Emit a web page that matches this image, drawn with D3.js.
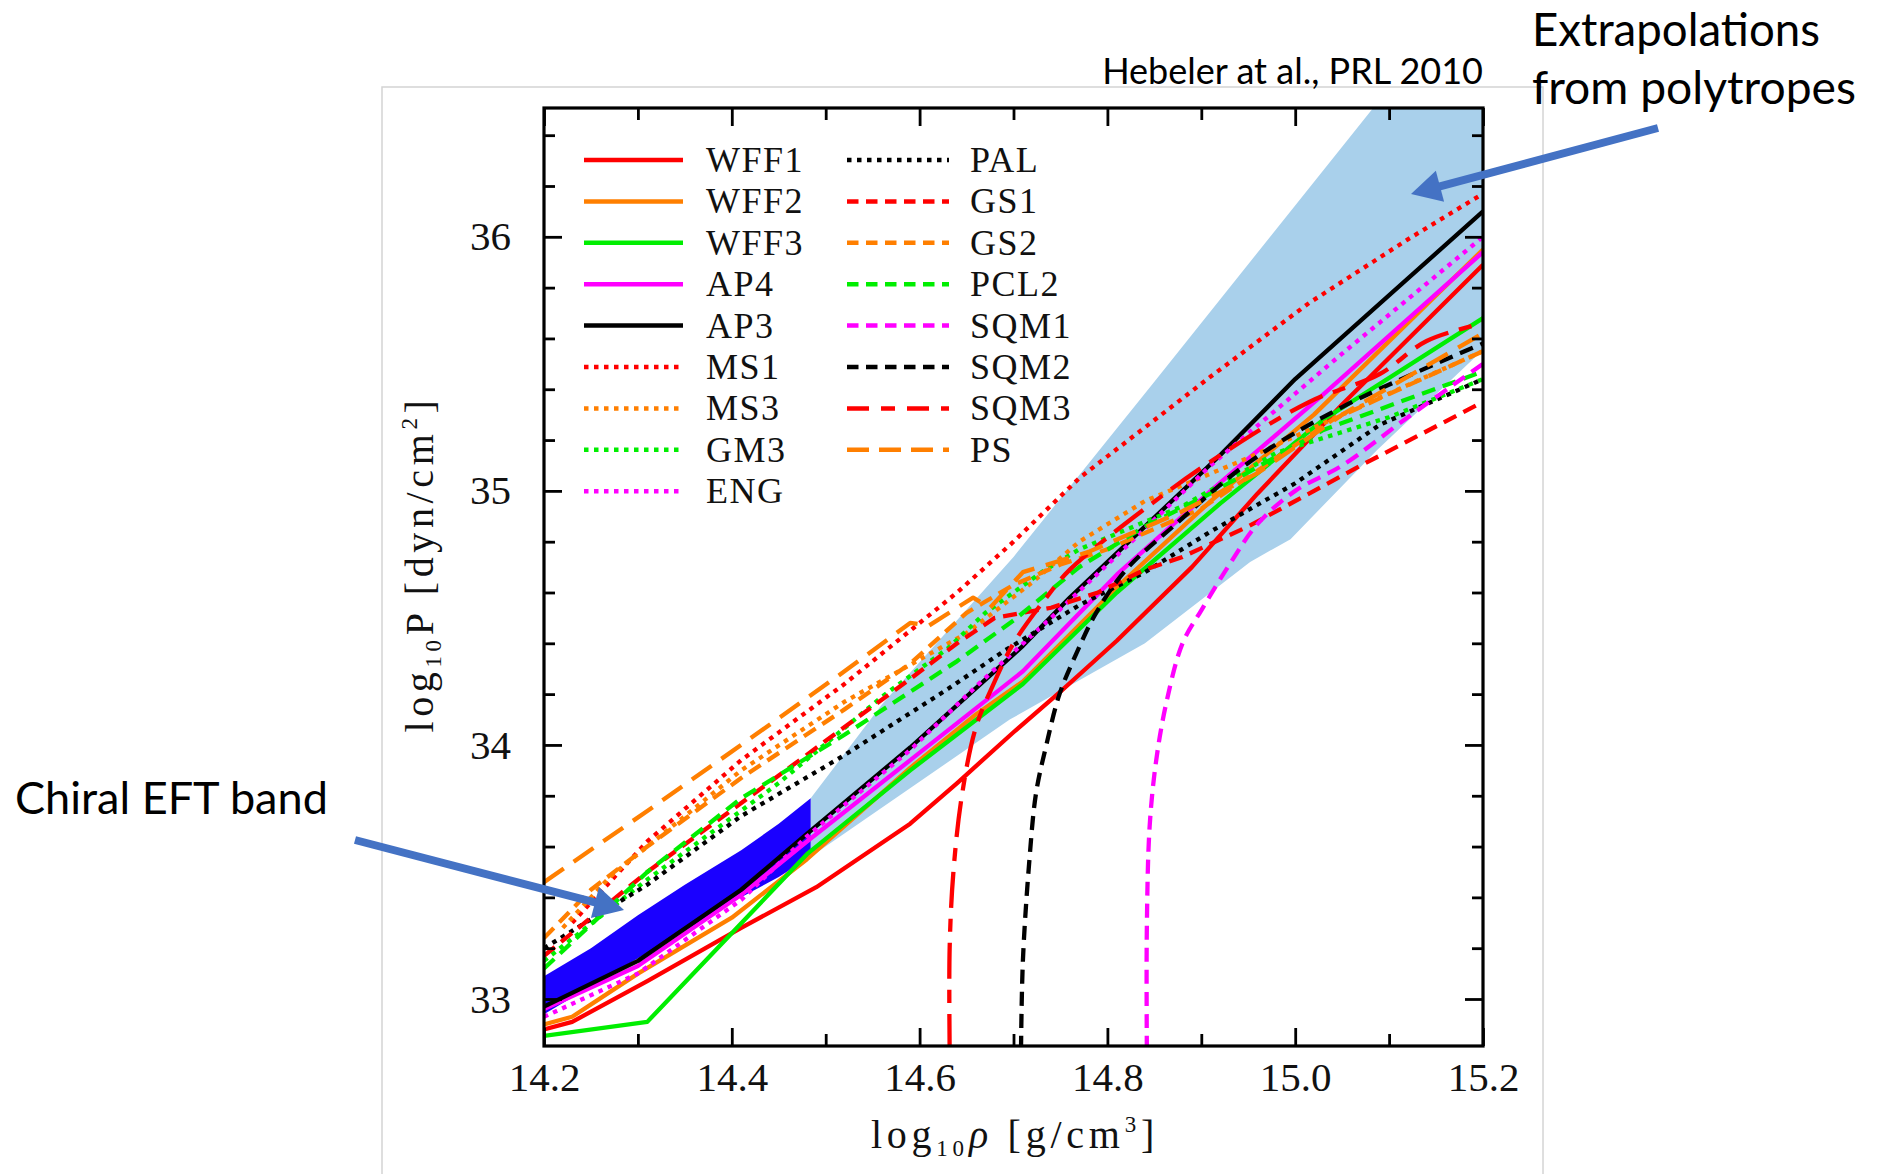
<!DOCTYPE html>
<html>
<head>
<meta charset="utf-8">
<script src="https://cdn.jsdelivr.net/npm/d3@7/dist/d3.min.js"></script>
<style>
  body { margin: 0; background: #fff; }
  svg { display: block; }
</style>
</head>
<body>
<svg id="chart" width="1883" height="1174"></svg>
<script>
// Equations of state: log10 P [dyn/cm^2] versus log10 rho [g/cm^3]
// Each curve is a list of [log10 rho, log10 P] points.
const WFF1 = [[14.2,32.88],[14.23,32.91],[14.31,33.07],[14.41,33.28],[14.49,33.44],[14.59,33.69],[14.64,33.85],[14.70,34.05],[14.75,34.21],[14.81,34.41],[14.89,34.70],[14.96,34.99],[15.05,35.34],[15.2,35.89]];
const WFF2 = [[14.2,32.90],[14.23,32.93],[14.30,33.10],[14.40,33.32],[14.48,33.55],[14.59,33.91],[14.66,34.12],[14.71,34.25],[14.81,34.62],[14.91,34.96],[15.02,35.30],[15.2,35.95]];
const WFF3 = [[14.2,32.855],[14.31,32.91],[14.48,33.57],[14.59,33.90],[14.71,34.24],[14.81,34.60],[14.92,34.95],[15.03,35.28],[15.2,35.68]];
const AP4  = [[14.2,32.96],[14.30,33.13],[14.41,33.41],[14.48,33.62],[14.59,33.94],[14.71,34.29],[14.81,34.67],[14.91,35.00],[15.03,35.38],[15.2,35.94]];
const AP3  = [[14.2,32.97],[14.30,33.15],[14.41,33.43],[14.48,33.65],[14.59,33.99],[14.65,34.19],[14.71,34.39],[14.76,34.58],[14.92,35.14],[15.0,35.44],[15.2,36.10]];
const MS1  = [[14.23,33.30],[14.31,33.62],[14.41,33.94],[14.52,34.24],[14.64,34.60],[14.70,34.80],[14.77,35.05],[14.84,35.25],[14.91,35.45],[15.015,35.74],[15.12,35.99],[15.2,36.17]];
const MS3  = [[14.22,33.28],[14.27,33.48],[14.41,33.90],[14.52,34.17],[14.65,34.44],[14.72,34.64],[14.77,34.80],[14.84,34.96],[14.95,35.13],[15.05,35.30],[15.2,35.55]];
const GM3  = [[14.2,33.15],[14.31,33.47],[14.45,33.85],[14.56,34.19],[14.63,34.38],[14.67,34.52],[14.73,34.68],[14.77,34.77],[14.88,34.94],[14.98,35.15],[15.1,35.29],[15.2,35.44]];
const ENG  = [[14.2,32.93],[14.30,33.10],[14.41,33.39],[14.48,33.64],[14.59,33.98],[14.66,34.23],[14.74,34.50],[14.82,34.78],[14.91,35.10],[15.05,35.54],[15.2,36.0]];
const PAL  = [[14.2,33.20],[14.31,33.45],[14.41,33.72],[14.52,33.96],[14.63,34.22],[14.69,34.37],[14.77,34.55],[14.84,34.68],[14.91,34.84],[15.0,35.03],[15.09,35.26],[15.2,35.44]];
const GS1  = [[14.2,33.17],[14.31,33.50],[14.45,33.88],[14.59,34.26],[14.64,34.40],[14.68,34.50],[14.74,34.54],[14.79,34.60],[14.84,34.69],[14.88,34.74],[14.95,34.86],[15.07,35.10],[15.2,35.35]];
const GS2  = [[14.2,33.24],[14.25,33.43],[14.31,33.60],[14.41,33.87],[14.52,34.14],[14.59,34.32],[14.65,34.52],[14.70,34.63],[14.75,34.71],[14.80,34.77],[14.90,34.93],[15.04,35.28],[15.2,35.55]];
const PCL2 = [[14.2,33.12],[14.31,33.50],[14.41,33.79],[14.52,34.04],[14.64,34.33],[14.70,34.49],[14.77,34.70],[14.84,34.86],[14.91,34.99],[15.03,35.24],[15.2,35.47]];
const SQM1 = [[14.842,32.80],[14.842,33.28],[14.845,33.68],[14.852,33.94],[14.863,34.17],[14.88,34.40],[14.90,34.53],[14.93,34.71],[14.96,34.87],[15.0,35.0],[15.05,35.10],[15.12,35.29],[15.2,35.50]];
const SQM2 = [[14.708,32.80],[14.71,33.15],[14.717,33.55],[14.724,33.81],[14.735,34.0],[14.749,34.2],[14.767,34.36],[14.788,34.52],[14.82,34.69],[14.87,34.86],[14.95,35.11],[15.05,35.33],[15.2,35.58]];
const SQM3 = [[14.632,32.80],[14.632,33.2],[14.636,33.5],[14.645,33.8],[14.66,34.07],[14.68,34.25],[14.70,34.40],[14.735,34.58],[14.76,34.69],[14.84,34.93],[14.92,35.14],[15.015,35.35],[15.09,35.46],[15.14,35.59],[15.2,35.66]];
const PS   = [[14.2,33.46],[14.31,33.74],[14.41,34.00],[14.52,34.29],[14.59,34.48],[14.61,34.47],[14.657,34.58],[14.675,34.54],[14.71,34.68],[14.78,34.76],[14.88,34.92],[14.96,35.07],[15.05,35.30],[15.2,35.62]];

// Chiral EFT band (dark) and its polytrope extrapolation (light)
const chiralX     = [14.2, 14.25, 14.3, 14.35, 14.41, 14.45, 14.484];
const chiralLower = [32.94, 33.05, 33.16, 33.27, 33.40, 33.48, 33.56];
const chiralUpper = [33.09, 33.20, 33.33, 33.45, 33.585, 33.69, 33.79];
const polyUpper = [[14.484,33.79],[14.56,34.16],[14.70,34.74],[14.85,35.43],[15.083,36.507],[15.2,36.507]];
const polyLower = [[14.484,33.56],[14.696,34.10],[14.84,34.40],[14.952,34.72],[14.995,34.81],[15.087,35.16],[15.2,35.555]];

// Axis ticks
const xMajor = [14.2, 14.4, 14.6, 14.8, 15.0, 15.2];
const xMinor = [14.3, 14.5, 14.7, 14.9, 15.1];
const yMajor = [33, 34, 35, 36];
const yMinor = [33.2, 33.4, 33.6, 33.8, 34.2, 34.4, 34.6, 34.8, 35.2, 35.4, 35.6, 35.8, 36.2, 36.4];

// Legend columns
const legendLeft  = ["WFF1","WFF2","WFF3","AP4","AP3","MS1","MS3","GM3","ENG"];
const legendRight = ["PAL","GS1","GS2","PCL2","SQM1","SQM2","SQM3","PS"];

const RED = "#ff0000", ORANGE = "#ff7f00", GREEN = "#00ee00", MAGENTA = "#ff00ff", BLACK = "#000000";
// dash styles: [plot dasharray, legend dasharray]
const SOLID = [null, null];
const DOT   = ["4.5,5.5", "4.5,5.5"];
const DASH  = ["14,8", "11.5,7.5"];
const LONG  = ["24,12", "22,10"];
const LSHORT = ["36,11,13,11", "22,12,14,12"];

const curves = {
  WFF1: {data: WFF1, color: RED,     dash: SOLID},
  WFF2: {data: WFF2, color: ORANGE,  dash: SOLID},
  WFF3: {data: WFF3, color: GREEN,   dash: SOLID},
  AP4:  {data: AP4,  color: MAGENTA, dash: SOLID},
  AP3:  {data: AP3,  color: BLACK,   dash: SOLID},
  MS1:  {data: MS1,  color: RED,     dash: DOT},
  MS3:  {data: MS3,  color: ORANGE,  dash: DOT},
  GM3:  {data: GM3,  color: GREEN,   dash: DOT},
  ENG:  {data: ENG,  color: MAGENTA, dash: DOT},
  PAL:  {data: PAL,  color: BLACK,   dash: DOT},
  GS1:  {data: GS1,  color: RED,     dash: DASH},
  GS2:  {data: GS2,  color: ORANGE,  dash: DASH},
  PCL2: {data: PCL2, color: GREEN,   dash: DASH},
  SQM1: {data: SQM1, color: MAGENTA, dash: DASH, smooth: true},
  SQM2: {data: SQM2, color: BLACK,   dash: DASH, smooth: true},
  SQM3: {data: SQM3, color: RED,     dash: LSHORT, smooth: true},
  PS:   {data: PS,   color: ORANGE,  dash: LONG}
};

const SERIF = "'Liberation Serif', 'Times New Roman', serif";
const SANS = "Lato, 'Open Sans', sans-serif";

const svg = d3.select("#chart");
const frame = {left: 544, right: 1483, top: 108, bottom: 1046};

const x = d3.scaleLinear().domain([14.2, 15.2]).range([frame.left, frame.right]);
const y = d3.scaleLinear().domain([32.815, 36.507]).range([frame.bottom, frame.top]);

// light grey outline of the figure panel
svg.append("rect")
  .attr("x", 382).attr("y", 87).attr("width", 1161).attr("height", 1200)
  .attr("fill", "none").attr("stroke", "#d4d4d4").attr("stroke-width", 1.5);

svg.append("clipPath").attr("id", "plot-clip")
  .append("rect")
  .attr("x", frame.left).attr("y", frame.top)
  .attr("width", frame.right - frame.left).attr("height", frame.bottom - frame.top);

const plot = svg.append("g").attr("clip-path", "url(#plot-clip)");

const line = d3.line().x(d => x(d[0])).y(d => y(d[1]));

// polytrope band
plot.append("path")
  .attr("d", line(polyUpper.concat(polyLower.slice().reverse())) + "Z")
  .attr("fill", "#a9d0eb");

// chiral EFT band
const chiral = chiralX.map((v, i) => ({x: v, lo: chiralLower[i], hi: chiralUpper[i]}));
plot.append("path")
  .attr("d", d3.area().x(d => x(d.x)).y0(d => y(d.lo)).y1(d => y(d.hi))(chiral))
  .attr("fill", "#1a00ff");

// curves
const order = legendLeft.concat(legendRight);
order.forEach(name => {
  const c = curves[name];
  const gen = d3.line().x(d => x(d[0])).y(d => y(d[1]))
    .curve(c.smooth ? d3.curveCatmullRom.alpha(0.5) : d3.curveLinear);
  plot.append("path")
    .attr("d", gen(c.data))
    .attr("fill", "none")
    .attr("stroke", c.color)
    .attr("stroke-width", 4.3)
    .attr("stroke-linejoin", "round")
    .attr("stroke-dasharray", c.dash[0]);
});

// axes, ticks pointing inwards on all four sides
function styleAxis(g) {
  g.select(".domain").remove();
  g.selectAll(".tick line").attr("stroke", "#000").attr("stroke-width", 2.8);
  g.selectAll(".tick text")
    .attr("font-family", SERIF).attr("font-size", 41).attr("fill", "#111");
}
const fmtX = d3.format(".1f");
svg.append("g").attr("transform", `translate(0,${frame.bottom})`)
  .call(d3.axisBottom(x).tickValues(xMajor).tickSize(-18).tickPadding(16).tickFormat(fmtX)).call(styleAxis);
svg.append("g").attr("transform", `translate(0,${frame.bottom})`)
  .call(d3.axisBottom(x).tickValues(xMinor).tickSize(-12).tickFormat("")).call(styleAxis);
svg.append("g").attr("transform", `translate(0,${frame.top})`)
  .call(d3.axisTop(x).tickValues(xMajor).tickSize(-18).tickFormat("")).call(styleAxis);
svg.append("g").attr("transform", `translate(0,${frame.top})`)
  .call(d3.axisTop(x).tickValues(xMinor).tickSize(-12).tickFormat("")).call(styleAxis);
svg.append("g").attr("transform", `translate(${frame.left},0)`)
  .call(d3.axisLeft(y).tickValues(yMajor).tickSize(-18).tickPadding(33).tickFormat(d3.format("d"))).call(styleAxis);
svg.append("g").attr("transform", `translate(${frame.left},0)`)
  .call(d3.axisLeft(y).tickValues(yMinor).tickSize(-11).tickFormat("")).call(styleAxis);
svg.append("g").attr("transform", `translate(${frame.right},0)`)
  .call(d3.axisRight(y).tickValues(yMajor).tickSize(-18).tickFormat("")).call(styleAxis);
svg.append("g").attr("transform", `translate(${frame.right},0)`)
  .call(d3.axisRight(y).tickValues(yMinor).tickSize(-11).tickFormat("")).call(styleAxis);

svg.append("rect")
  .attr("x", frame.left).attr("y", frame.top)
  .attr("width", frame.right - frame.left).attr("height", frame.bottom - frame.top)
  .attr("fill", "none").attr("stroke", "#000").attr("stroke-width", 3.2);

// legend
function legendColumn(names, x0, x1, tx) {
  names.forEach((name, i) => {
    const c = curves[name];
    const cy = 160 + i * 41.4;
    svg.append("line")
      .attr("x1", x0).attr("x2", x1).attr("y1", cy).attr("y2", cy)
      .attr("stroke", c.color).attr("stroke-width", 4.5)
      .attr("stroke-dasharray", c.dash[1]);
    svg.append("text")
      .attr("x", tx).attr("y", cy + 12)
      .attr("font-family", SERIF).attr("font-size", 36)
      .attr("letter-spacing", 1.5).attr("fill", "#111")
      .text(name);
  });
}
legendColumn(legendLeft, 584, 683, 706);
legendColumn(legendRight, 847, 949, 970);

// spread a title so that it covers a given length
function spreadTo(sel, target) {
  const n = sel.text().length;
  const w = sel.node().getComputedTextLength();
  sel.attr("letter-spacing", Math.max(0, (target - w) / n));
}

// y axis title
const yTitle = svg.append("text")
  .attr("transform", "translate(433,564) rotate(-90)")
  .attr("text-anchor", "middle")
  .attr("font-family", SERIF).attr("font-size", 40).attr("fill", "#111");
yTitle.append("tspan").text("log");
yTitle.append("tspan").attr("font-size", 23).attr("dy", 8).text("10");
yTitle.append("tspan").attr("dy", -8).text("P [dyn/cm");
yTitle.append("tspan").attr("font-size", 23).attr("dy", -16).text("2");
yTitle.append("tspan").attr("dy", 16).text("]");
spreadTo(yTitle, 337);

// x axis title
const xTitle = svg.append("text")
  .attr("x", 1015).attr("y", 1148)
  .attr("text-anchor", "middle")
  .attr("font-family", SERIF).attr("font-size", 40).attr("fill", "#111");
xTitle.append("tspan").text("log");
xTitle.append("tspan").attr("font-size", 23).attr("dy", 8).text("10");
xTitle.append("tspan").attr("dy", -8).attr("font-style", "italic").text("\u03c1");
xTitle.append("tspan").text(" [g/cm");
xTitle.append("tspan").attr("font-size", 23).attr("dy", -16).text("3");
xTitle.append("tspan").attr("dy", 16).text("]");
spreadTo(xTitle, 288);

// annotations
function fitText(txt, px, py, size, target, anchor) {
  const t = svg.append("text")
    .attr("x", px).attr("y", py)
    .attr("text-anchor", anchor || "start")
    .attr("font-family", SANS).attr("font-size", size).attr("fill", "#000")
    .text(txt);
  const w = t.node().getComputedTextLength();
  t.attr("font-size", size * target / w);
  return t;
}
fitText("Hebeler at al., PRL 2010", 1483, 84, 32, 381, "end");
fitText("Extrapolations", 1532, 46, 46, 288);
fitText("from polytropes", 1532, 104, 46, 324);
fitText("Chiral EFT band", 15, 814, 46, 313);

function arrow(x1, y1, x2, y2) {
  const a = Math.atan2(y2 - y1, x2 - x1);
  const hl = 30, hw = 16;
  const bx = x2 - hl * Math.cos(a), by = y2 - hl * Math.sin(a);
  const px = -Math.sin(a) * hw, py = Math.cos(a) * hw;
  svg.append("line")
    .attr("x1", x1).attr("y1", y1).attr("x2", bx + 2 * Math.cos(a)).attr("y2", by + 2 * Math.sin(a))
    .attr("stroke", "#4472c4").attr("stroke-width", 8);
  svg.append("path")
    .attr("d", `M${x2},${y2}L${bx + px},${by + py}L${bx - px},${by - py}Z`)
    .attr("fill", "#4472c4");
}
arrow(355, 840, 624, 910);
arrow(1658, 128, 1411, 194);
</script>
</body>
</html>
